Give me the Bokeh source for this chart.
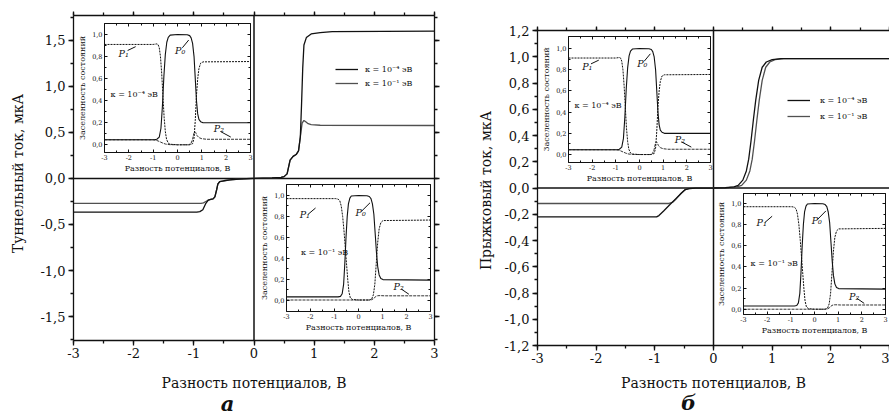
from bokeh.plotting import figure
from bokeh.models import (Range1d, LinearAxis, FixedTicker, CustomJSTickFormatter, Legend, LegendItem,
                          Label, CustomLabelingPolicy)
from bokeh.embed import file_html
from bokeh.resources import INLINE

# ---------------- data ----------------
# panel a: tunnelling current (uA) vs bias (V)
a_k4_v = [-3.0, -0.95, -0.9, -0.85, -0.8, -0.76, -0.72, -0.68, -0.65, -0.62, -0.6, -0.57, -0.5, -0.4, -0.25, 0.0,
          0.3, 0.45, 0.5, 0.55, 0.6, 0.65, 0.7, 0.74, 0.77, 0.79, 0.81, 0.83, 0.87, 0.95, 1.1, 1.3, 3.0]
a_k4_i = [-0.365, -0.365, -0.36, -0.34, -0.27, -0.235, -0.228, -0.222, -0.2, -0.12, -0.06, -0.035, -0.025, -0.015, -0.006, 0.0,
          0.005, 0.012, 0.02, 0.05, 0.2, 0.24, 0.26, 0.3, 0.45, 0.8, 1.2, 1.45, 1.53, 1.57, 1.585, 1.595, 1.6]
a_k1_v = [-3.0, -0.88, -0.84, -0.8, -0.76, -0.72, -0.68, -0.65, -0.62, -0.6, -0.57, -0.5, -0.4, -0.25, 0.0,
          0.3, 0.45, 0.5, 0.55, 0.6, 0.65, 0.7, 0.74, 0.77, 0.8, 0.83, 0.86, 0.9, 0.95, 1.1, 3.0]
a_k1_i = [-0.27, -0.27, -0.265, -0.25, -0.235, -0.228, -0.222, -0.2, -0.12, -0.06, -0.035, -0.025, -0.015, -0.006, 0.0,
          0.005, 0.012, 0.02, 0.05, 0.2, 0.24, 0.26, 0.3, 0.45, 0.6, 0.63, 0.615, 0.595, 0.585, 0.578, 0.575]

# panel b: hopping current (uA) vs bias (V)
b_k4_v = [-3.0, -0.97, -0.93, -0.85, -0.75, -0.65, -0.55, -0.48, -0.42, -0.3, 0.0, 0.2, 0.35, 0.42, 0.5, 0.56, 0.6,
          0.64, 0.68, 0.72, 0.77, 0.83, 0.9, 1.0, 1.15, 3.0]
b_k4_i = [-0.22, -0.22, -0.21, -0.175, -0.13, -0.085, -0.04, -0.012, -0.004, -0.001, 0.0, 0.002, 0.008, 0.02, 0.06, 0.13, 0.22,
          0.36, 0.52, 0.67, 0.82, 0.92, 0.96, 0.978, 0.985, 0.985]
b_k1_v = [-3.0, -0.76, -0.7, -0.65, -0.55, -0.48, -0.42, -0.3, 0.0, 0.2, 0.4, 0.48, 0.56, 0.62, 0.66,
          0.7, 0.74, 0.78, 0.83, 0.89, 0.96, 1.05, 1.2, 3.0]
b_k1_i = [-0.118, -0.118, -0.11, -0.09, -0.04, -0.012, -0.004, -0.001, 0.0, 0.001, 0.008, 0.02, 0.06, 0.13, 0.22,
          0.36, 0.52, 0.67, 0.82, 0.92, 0.96, 0.978, 0.985, 0.985]

# insets: state occupancies, kappa = 1e-4 eV
p0_k4_v = [-3, -0.95, -0.85, -0.75, -0.68, -0.62, -0.56, -0.5, -0.44, -0.38, -0.3, 0.0, 0.4, 0.5, 0.56, 0.62, 0.68,
           0.73, 0.78, 0.83, 0.88, 0.95, 1.05, 3]
p0_k4_y = [0.045, 0.045, 0.05, 0.07, 0.15, 0.35, 0.62, 0.82, 0.93, 0.975, 0.995, 1.0, 0.998, 0.99, 0.97, 0.92, 0.8,
           0.6, 0.4, 0.28, 0.23, 0.21, 0.2, 0.2]
p1_k4_v = [-3, -1.0, -0.85, -0.8, -0.75, -0.7, -0.65, -0.6, -0.55, -0.5, -0.45, -0.38, -0.3, 0.0, 0.5, 0.62, 0.68,
           0.73, 0.78, 0.83, 0.88, 0.95, 1.05, 3]
p1_k4_y = [0.91, 0.91, 0.915, 0.91, 0.88, 0.8, 0.65, 0.45, 0.25, 0.12, 0.05, 0.015, 0.005, 0.0, 0.0, 0.01, 0.06,
           0.22, 0.45, 0.6, 0.69, 0.74, 0.752, 0.755]
p2_k4_v = [-3, -1.0, -0.9, -0.8, -0.7, -0.6, -0.5, -0.4, -0.3, 0.0, 0.45, 0.55, 0.62, 0.67, 0.71, 0.75, 0.8, 0.88,
           1.0, 1.2, 3]
p2_k4_y = [0.045, 0.045, 0.042, 0.035, 0.025, 0.015, 0.007, 0.003, 0.001, 0.0, 0.0, 0.01, 0.05, 0.1, 0.12, 0.11, 0.085,
           0.065, 0.055, 0.05, 0.05]

# insets: state occupancies, kappa = 1e-1 eV
p0_k1_v = [-3, -0.85, -0.75, -0.68, -0.62, -0.57, -0.52, -0.47, -0.42, -0.36, -0.3, 0, 0.35, 0.45, 0.52, 0.58, 0.64,
           0.7, 0.75, 0.8, 0.86, 0.93, 1.02, 3]
p0_k1_y = [0.03, 0.03, 0.035, 0.06, 0.15, 0.35, 0.6, 0.8, 0.92, 0.975, 0.995, 1.0, 0.998, 0.99, 0.97, 0.92, 0.82,
           0.62, 0.45, 0.32, 0.24, 0.205, 0.195, 0.19]
p1_k1_v = [-3, -0.95, -0.85, -0.78, -0.72, -0.66, -0.6, -0.55, -0.5, -0.45, -0.4, -0.34, -0.25, 0, 0.45, 0.55, 0.62,
           0.68, 0.74, 0.8, 0.86, 0.93, 1.02, 3]
p1_k1_y = [0.97, 0.97, 0.965, 0.95, 0.9, 0.8, 0.65, 0.5, 0.35, 0.2, 0.08, 0.02, 0.005, 0.0, 0.0, 0.01, 0.05,
           0.15, 0.35, 0.55, 0.68, 0.74, 0.76, 0.765]
p2_k1_v = [-3, 0.45, 0.55, 0.62, 0.68, 0.74, 0.8, 0.9, 1.1, 3]
p2_k1_y = [0.0, 0.0, 0.003, 0.012, 0.025, 0.036, 0.041, 0.042, 0.04, 0.04]

# ticks
x_ticks = [-3, -2, -1, 0, 1, 2, 3]
x_minor = [-3, -2.5, -2, -1.5, -1, -0.5, 0, 0.5, 1, 1.5, 2, 2.5, 3]
ya_ticks = [-1.5, -1.0, -0.5, 0.0, 0.5, 1.0, 1.5]
ya_minor = [-1.75, -1.5, -1.25, -1.0, -0.75, -0.5, -0.25, 0.0, 0.25, 0.5, 0.75, 1.0, 1.25, 1.5, 1.75]
yb_ticks = [-1.2, -1.0, -0.8, -0.6, -0.4, -0.2, 0.0, 0.2, 0.4, 0.6, 0.8, 1.0, 1.2]
yb_minor = [-1.2, -1.1, -1.0, -0.9, -0.8, -0.7, -0.6, -0.5, -0.4, -0.3, -0.2, -0.1, 0.0,
            0.1, 0.2, 0.3, 0.4, 0.5, 0.6, 0.7, 0.8, 0.9, 1.0, 1.1, 1.2]
yi_ticks = [0.0, 0.2, 0.4, 0.6, 0.8, 1.0]
yi_minor = [0.0, 0.1, 0.2, 0.3, 0.4, 0.5, 0.6, 0.7, 0.8, 0.9, 1.0]

XLABEL = "Разность потенциалов, В"
YLABEL_A = "Туннельный ток, мкА"
YLABEL_B = "Прыжковый ток, мкА"
YLABEL_IN = "Заселенность состояний"
LEG_K4 = "κ = 10⁻⁴ эВ"
LEG_K1 = "κ = 10⁻¹ эВ"

# ---------------- layout / style ----------------
W, H = 889, 416
FONT = "DejaVu Serif"
INK = "#111111"
GRAY = "#505050"

# panel rectangles in page pixels (left, right, top, bottom) and their data limits
PANELS = {
    "pa": ((73, 434, 15, 340), (-3, 3), (-1.76, 1.77)),
    "pb": ((537, 889, 30, 345), (-3, 3), (-1.2, 1.2)),
    "a1": ((104, 250, 23, 152), (-3, 3), (-0.07, 1.1)),
    "a2": ((286, 430, 184, 311), (-3, 3), (-0.11, 1.105)),
    "b1": ((568, 710, 36, 162), (-3, 3), (-0.075, 1.113)),
    "b2": ((743, 885, 193, 314), (-3, 3), (-0.05, 1.095)),
}

p = figure(width=W, height=H, x_range=Range1d(0, W), y_range=Range1d(0, H), output_backend="svg",
           toolbar_location=None, x_axis_location=None, y_axis_location=None, min_border=0,
           outline_line_color=None, background_fill_color="white", border_fill_color="white")
p.grid.visible = False

xr, yr = {}, {}
for name, ((L, R, T, B), xl, yl) in PANELS.items():
    sx = (xl[1] - xl[0]) / (R - L)
    sy = (yl[1] - yl[0]) / (B - T)
    xr[name] = Range1d(xl[0] - L * sx, xl[1] + (W - R) * sx)
    yr[name] = Range1d(yl[0] - (H - B) * sy, yl[1] + T * sy)
p.extra_x_ranges = xr
p.extra_y_ranges = yr

HIDE = "for (const i of indices) { indices.unset(i) }\nreturn indices"


def fmt(dec):
    return CustomJSTickFormatter(code="return tick.toFixed(%d).replace('.', ',');" % dec)


def axis(name, side, loc, bounds, ticks, minor, dec, t_out, m_out, t_in, m_in, font, std, lw):
    ax = LinearAxis(x_range_name=name, y_range_name=name, fixed_location=loc, bounds=bounds,
                    ticker=FixedTicker(ticks=ticks, minor_ticks=minor),
                    major_tick_out=t_out, minor_tick_out=m_out, major_tick_in=t_in, minor_tick_in=m_in,
                    axis_line_width=lw, major_tick_line_width=lw, minor_tick_line_width=lw,
                    axis_line_color=INK, major_tick_line_color=INK, minor_tick_line_color=INK)
    if dec is None:
        ax.major_label_text_font_size = "1px"
        ax.major_label_standoff = 0
        ax.major_label_policy = CustomLabelingPolicy(code=HIDE)
    else:
        ax.formatter = fmt(dec)
        ax.major_label_text_font = FONT
        ax.major_label_text_font_size = font
        ax.major_label_text_color = INK
        ax.major_label_standoff = std
    p.add_layout(ax, side)


def text(x, y, s, size, name=None, style="normal", angle=0, align="left", baseline="middle"):
    kw = dict(x=x, y=y, text=s, text_font=FONT, text_font_size=size, text_font_style=style,
              text_color=INK, text_align=align, text_baseline=baseline, angle=angle, angle_units="deg")
    if name is None:
        kw.update(x_units="screen", y_units="screen")
    else:
        kw.update(x_range_name=name, y_range_name=name)
    p.add_layout(Label(**kw))


def main_panel(name, yt, ym, right):
    (L, R, T, B), xl, yl = PANELS[name]
    axis(name, "below", yl[0], xl, x_ticks, x_minor, 0, 5, 3, 0, 0, "13px", 2, 1.3)
    axis(name, "left", xl[0], yl, yt, ym, 1, 5, 3, 0, 0, "13px", 3, 1.3)
    axis(name, "above", yl[1], xl, x_ticks, x_minor, None, 4, 3, 0, 0, "1px", 0, 1.3)
    if right:
        axis(name, "right", xl[1], yl, yt, ym, None, 5, 3, 0, 0, "1px", 0, 1.3)
    p.segment(x0=[0, xl[0]], y0=[yl[0], 0], x1=[0, xl[1]], y1=[yl[1], 0], x_range_name=name, y_range_name=name,
              line_color=INK, line_width=1.5)


def inset(name, kap, p0, p1, p2, ann):
    (L, R, T, B), xl, yl = PANELS[name]
    axis(name, "below", yl[0], xl, x_ticks, x_minor, 0, 0, 0, 3, 2, "6.5px", 2, 1.0)
    axis(name, "left", xl[0], yl, yi_ticks, yi_minor, 1, 0, 0, 3, 2, "6.5px", 2, 1.0)
    axis(name, "above", yl[1], xl, x_ticks, x_minor, None, 0, 0, 3, 2, "1px", 0, 1.0)
    axis(name, "right", xl[1], yl, yi_ticks, yi_minor, None, 0, 0, 3, 2, "1px", 0, 1.0)
    p.line(p2[0], p2[1], x_range_name=name, y_range_name=name, line_color="#333333", line_width=1.0, line_dash="3 1")
    p.line(p1[0], p1[1], x_range_name=name, y_range_name=name, line_color=INK, line_width=1.0, line_dash="2 1")
    p.line(p0[0], p0[1], x_range_name=name, y_range_name=name, line_color=INK, line_width=1.1)
    for (tx, ty, s, x0, y0, x1, y1) in ann:
        text(tx, ty, s, "9.5px", name=name, style="italic")
        p.segment(x0=[x0], y0=[y0], x1=[x1], y1=[y1], x_range_name=name, y_range_name=name,
                  line_color=INK, line_width=1)
    text(kap[0], kap[1], kap[2], "8px", name=name)
    text((L + R) / 2, H - (B + 16), XLABEL, "8px", align="center")
    text(L - 22, H - (T + B) / 2, YLABEL_IN, "8px", angle=90, align="center")


# ---------- panel a ----------
main_panel("pa", ya_ticks, ya_minor, True)
ra1 = p.line(a_k1_v, a_k1_i, x_range_name="pa", y_range_name="pa", line_color=GRAY, line_width=1.3)
ra4 = p.line(a_k4_v, a_k4_i, x_range_name="pa", y_range_name="pa", line_color=INK, line_width=1.3)
text(253.5, H - 382, XLABEL, "14px", align="center")
text(17, H - 173, YLABEL_A, "14px", angle=90, align="center")
text(227, 1, "а", "21px", style="bold italic", align="center", baseline="bottom")

# ---------- panel b ----------
main_panel("pb", yb_ticks, yb_minor, False)
rb1 = p.line(b_k1_v, b_k1_i, x_range_name="pb", y_range_name="pb", line_color=GRAY, line_width=1.3)
rb4 = p.line(b_k4_v, b_k4_i, x_range_name="pb", y_range_name="pb", line_color=INK, line_width=1.3)
text(713, H - 382, XLABEL, "14px", align="center")
text(485, H - 190, YLABEL_B, "14px", angle=90, align="center")
text(688, 2, "б", "21px", style="bold italic", align="center", baseline="bottom")


def legend(r4, r1, loc, gh, std):
    p.add_layout(Legend(items=[LegendItem(label=LEG_K4, renderers=[r4]), LegendItem(label=LEG_K1, renderers=[r1])],
                        location=loc, glyph_width=23, glyph_height=gh, label_height=gh, label_standoff=std,
                        spacing=0, padding=0, margin=0, border_line_alpha=0, background_fill_alpha=0,
                        label_text_font=FONT, label_text_font_size="8px", label_text_color=INK))


legend(ra4, ra1, (335, H - 90), 14, 7)
legend(rb4, rb1, (787, H - 124), 16, 10)

# ---------- insets ----------
ann4 = [(-2.42, 0.83, "P₁", -2.05, 0.855, -1.72, 0.89),
        (-0.1, 0.855, "P₀", 0.2, 0.88, 0.46, 0.95),
        (1.49, 0.145, "P₂", 1.77, 0.12, 2.19, 0.07)]
ann1 = [(-2.45, 0.82, "P₁", -2.1, 0.82, -1.79, 0.88),
        (-0.12, 0.84, "P₀", 0.13, 0.85, 0.48, 0.93),
        (1.46, 0.125, "P₂", 1.78, 0.105, 2.1, 0.055)]

inset("a1", (-2.75, 0.46, LEG_K4), (p0_k4_v, p0_k4_y), (p1_k4_v, p1_k4_y), (p2_k4_v, p2_k4_y), ann4)
inset("a2", (-2.4, 0.45, LEG_K1), (p0_k1_v, p0_k1_y), (p1_k1_v, p1_k1_y), (p2_k1_v, p2_k1_y), ann1)
inset("b1", (-2.75, 0.46, LEG_K4), (p0_k4_v, p0_k4_y), (p1_k4_v, p1_k4_y), (p2_k4_v, p2_k4_y), ann4)
inset("b2", (-2.7, 0.435, LEG_K1), (p0_k1_v, p0_k1_y), (p1_k1_v, p1_k1_y), (p2_k1_v, p2_k1_y), ann1)

open("out.html", "w").write(file_html(p, INLINE))
